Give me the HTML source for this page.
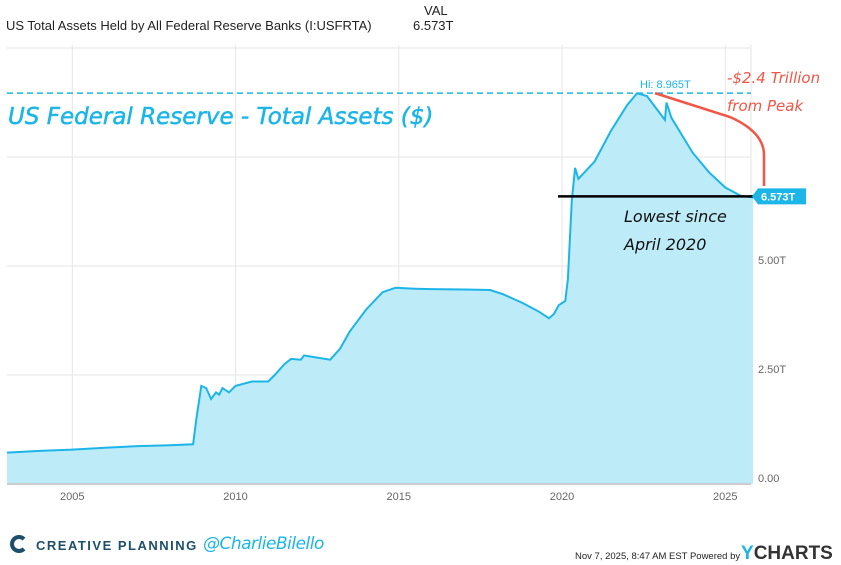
<!DOCTYPE html>
<html><head><meta charset="utf-8"><style>
body{margin:0;width:841px;height:565px;background:#fff;overflow:hidden;font-family:"Liberation Sans",sans-serif;position:relative}
.a{position:absolute;white-space:nowrap}
</style></head><body>
<div class="a" style="left:6px;top:18px;font-size:13px;color:#222">US Total Assets Held by All Federal Reserve Banks (I:USFRTA)</div>
<div class="a" style="left:424px;top:3px;font-size:13px;color:#222">VAL</div>
<div class="a" style="left:413px;top:18px;font-size:13px;color:#222">6.573T</div>
<svg id="c" class="a" style="left:0;top:0" width="841" height="565"></svg>
<div class="a" style="left:8px;top:104px;font-size:23px;color:#1cb5e8;font-family:'DejaVu Sans',sans-serif;font-style:italic;-webkit-text-stroke:0.5px #1cb5e8">US Federal Reserve - Total Assets ($)</div>
<div class="a" style="left:727px;top:64px;font-size:15px;line-height:28px;color:#f05545;font-family:'DejaVu Sans',sans-serif;font-style:italic">-$2.4 Trillion<br>from Peak</div>
<div class="a" style="left:624px;top:203px;font-size:16px;line-height:28px;color:#111;font-family:'DejaVu Sans',sans-serif;font-style:italic">Lowest since<br>April 2020</div>
<div class="a" style="left:10px;top:535px;width:18px;height:18px;border:4px solid #1d4f6b;border-right-color:transparent;border-radius:50%;box-sizing:border-box"></div>
<div class="a" style="left:36px;top:538px;font-size:13px;font-weight:bold;letter-spacing:1.5px;color:#1d4f6b">CREATIVE PLANNING</div>
<div class="a" style="left:203px;top:534px;font-size:17px;color:#1cb5e8;font-family:'DejaVu Sans',sans-serif;font-style:italic;letter-spacing:-0.5px">@CharlieBilello</div>
<div class="a" style="left:575px;top:551px;font-size:9.5px;color:#222">Nov 7, 2025, 8:47 AM EST Powered by</div>
<div class="a" style="left:741px;top:543px;font-size:19px;font-weight:bold;color:#333"><span style="color:#1cb5e8">Y</span>CHARTS</div>
<script>
const years=[2003,2004,2005,2006,2007,2008,2008.7,2008.8,2008.95,2009.1,2009.25,2009.4,2009.5,2009.6,2009.8,2010,2010.5,2011,2011.2,2011.5,2011.7,2012,2012.1,2012.5,2012.9,2013.2,2013.5,2014,2014.5,2014.9,2015.5,2016,2017,2017.8,2018.2,2018.8,2019.3,2019.6,2019.75,2019.9,2020.1,2020.18,2020.3,2020.4,2020.5,2021,2021.5,2022,2022.3,2022.6,2023,2023.15,2023.2,2023.35,2024,2024.5,2025,2025.5,2025.85];
const values=[0.72,0.76,0.79,0.83,0.87,0.89,0.91,1.5,2.25,2.2,1.95,2.1,2.05,2.2,2.1,2.25,2.35,2.35,2.5,2.75,2.87,2.85,2.95,2.9,2.85,3.1,3.5,4.0,4.4,4.5,4.48,4.47,4.46,4.45,4.35,4.15,3.95,3.8,3.9,4.1,4.2,4.7,6.5,7.25,7.0,7.4,8.1,8.7,8.96,8.9,8.5,8.35,8.75,8.4,7.6,7.15,6.8,6.6,6.573];
const yTicks=[0,2.5,5,7.5,10];
const yLabels=["0.00","2.50T","5.00T","",""];
const xTicks=[2005,2010,2015,2020,2025];
const hiValue=8.965, lastValue=6.573;
const L=7,R=751,T=45,B=484;
const x=y=>L+(y-2003)*32.65;
const yv=v=>B-v*43.6;
const svg=document.getElementById('c');
const NS='http://www.w3.org/2000/svg';
function mk(t,a){const e=document.createElementNS(NS,t);for(const k in a)e.setAttribute(k,a[k]);svg.appendChild(e);return e;}
yTicks.forEach((t,i)=>{const g=mk('line',{x1:L,x2:R,y1:yv(t),y2:yv(t),stroke:'#e6e6e6'});


if(yLabels[i]){const tx=mk('text',{x:758,y:yv(t)-2,'font-size':11,fill:'#666','font-family':'Liberation Sans'});tx.textContent=yLabels[i];

}});
xTicks.forEach(t=>{const g=mk('line',{x1:x(t),x2:x(t),y1:T,y2:B,stroke:'#e6e6e6'});


const tx=mk('text',{x:x(t),y:500,'font-size':11,fill:'#666','text-anchor':'middle','font-family':'Liberation Sans'});tx.textContent=t;

});
mk('line',{x1:R,x2:R,y1:T,y2:B,stroke:'#e6e6e6'});
let d=years.map((yr,i)=>(i?'L':'M')+x(yr).toFixed(1)+' '+yv(values[i]).toFixed(1)).join(' ');
const area=mk('path',{d:d+` L${x(years[years.length-1])} ${B} L${L} ${B} Z`,fill:'#bdebf8'});


const line=mk('path',{d:d,fill:'none',stroke:'#1cb5e8','stroke-width':2});


mk('line',{x1:L,x2:R,y1:B,y2:B,stroke:'#ccc','stroke-width':2});
const hl=mk('line',{x1:L,x2:R,y1:yv(hiValue),y2:yv(hiValue),stroke:'#1cb5e8','stroke-width':1.5,'stroke-dasharray':'6,4'});


const ht=mk('text',{x:640,y:yv(hiValue)-5,'font-size':11,fill:'#1cb5e8','font-family':'Liberation Sans'});ht.textContent='Hi: '+hiValue+'T';


const rl=mk('path',{d:`M655 ${yv(hiValue)} L730 117 Q764 132 764 155 L764 186`,fill:'none',stroke:'#f05545','stroke-width':2.5});


const bl=mk('line',{x1:558,x2:757,y1:yv(lastValue)-1,y2:yv(lastValue)-1,stroke:'#000','stroke-width':2.5});


const by=yv(lastValue)-1;
const bx=mk('path',{d:`M752 ${by} L758 ${by-8} L806 ${by-8} L806 ${by+8} L758 ${by+8} Z`,fill:'#1cb5e8'});


const bt=mk('text',{x:761,y:by+4,'font-size':11,'font-weight':'bold',fill:'#fff','font-family':'Liberation Sans'});bt.textContent=lastValue+'T';


</script>
</body></html>
